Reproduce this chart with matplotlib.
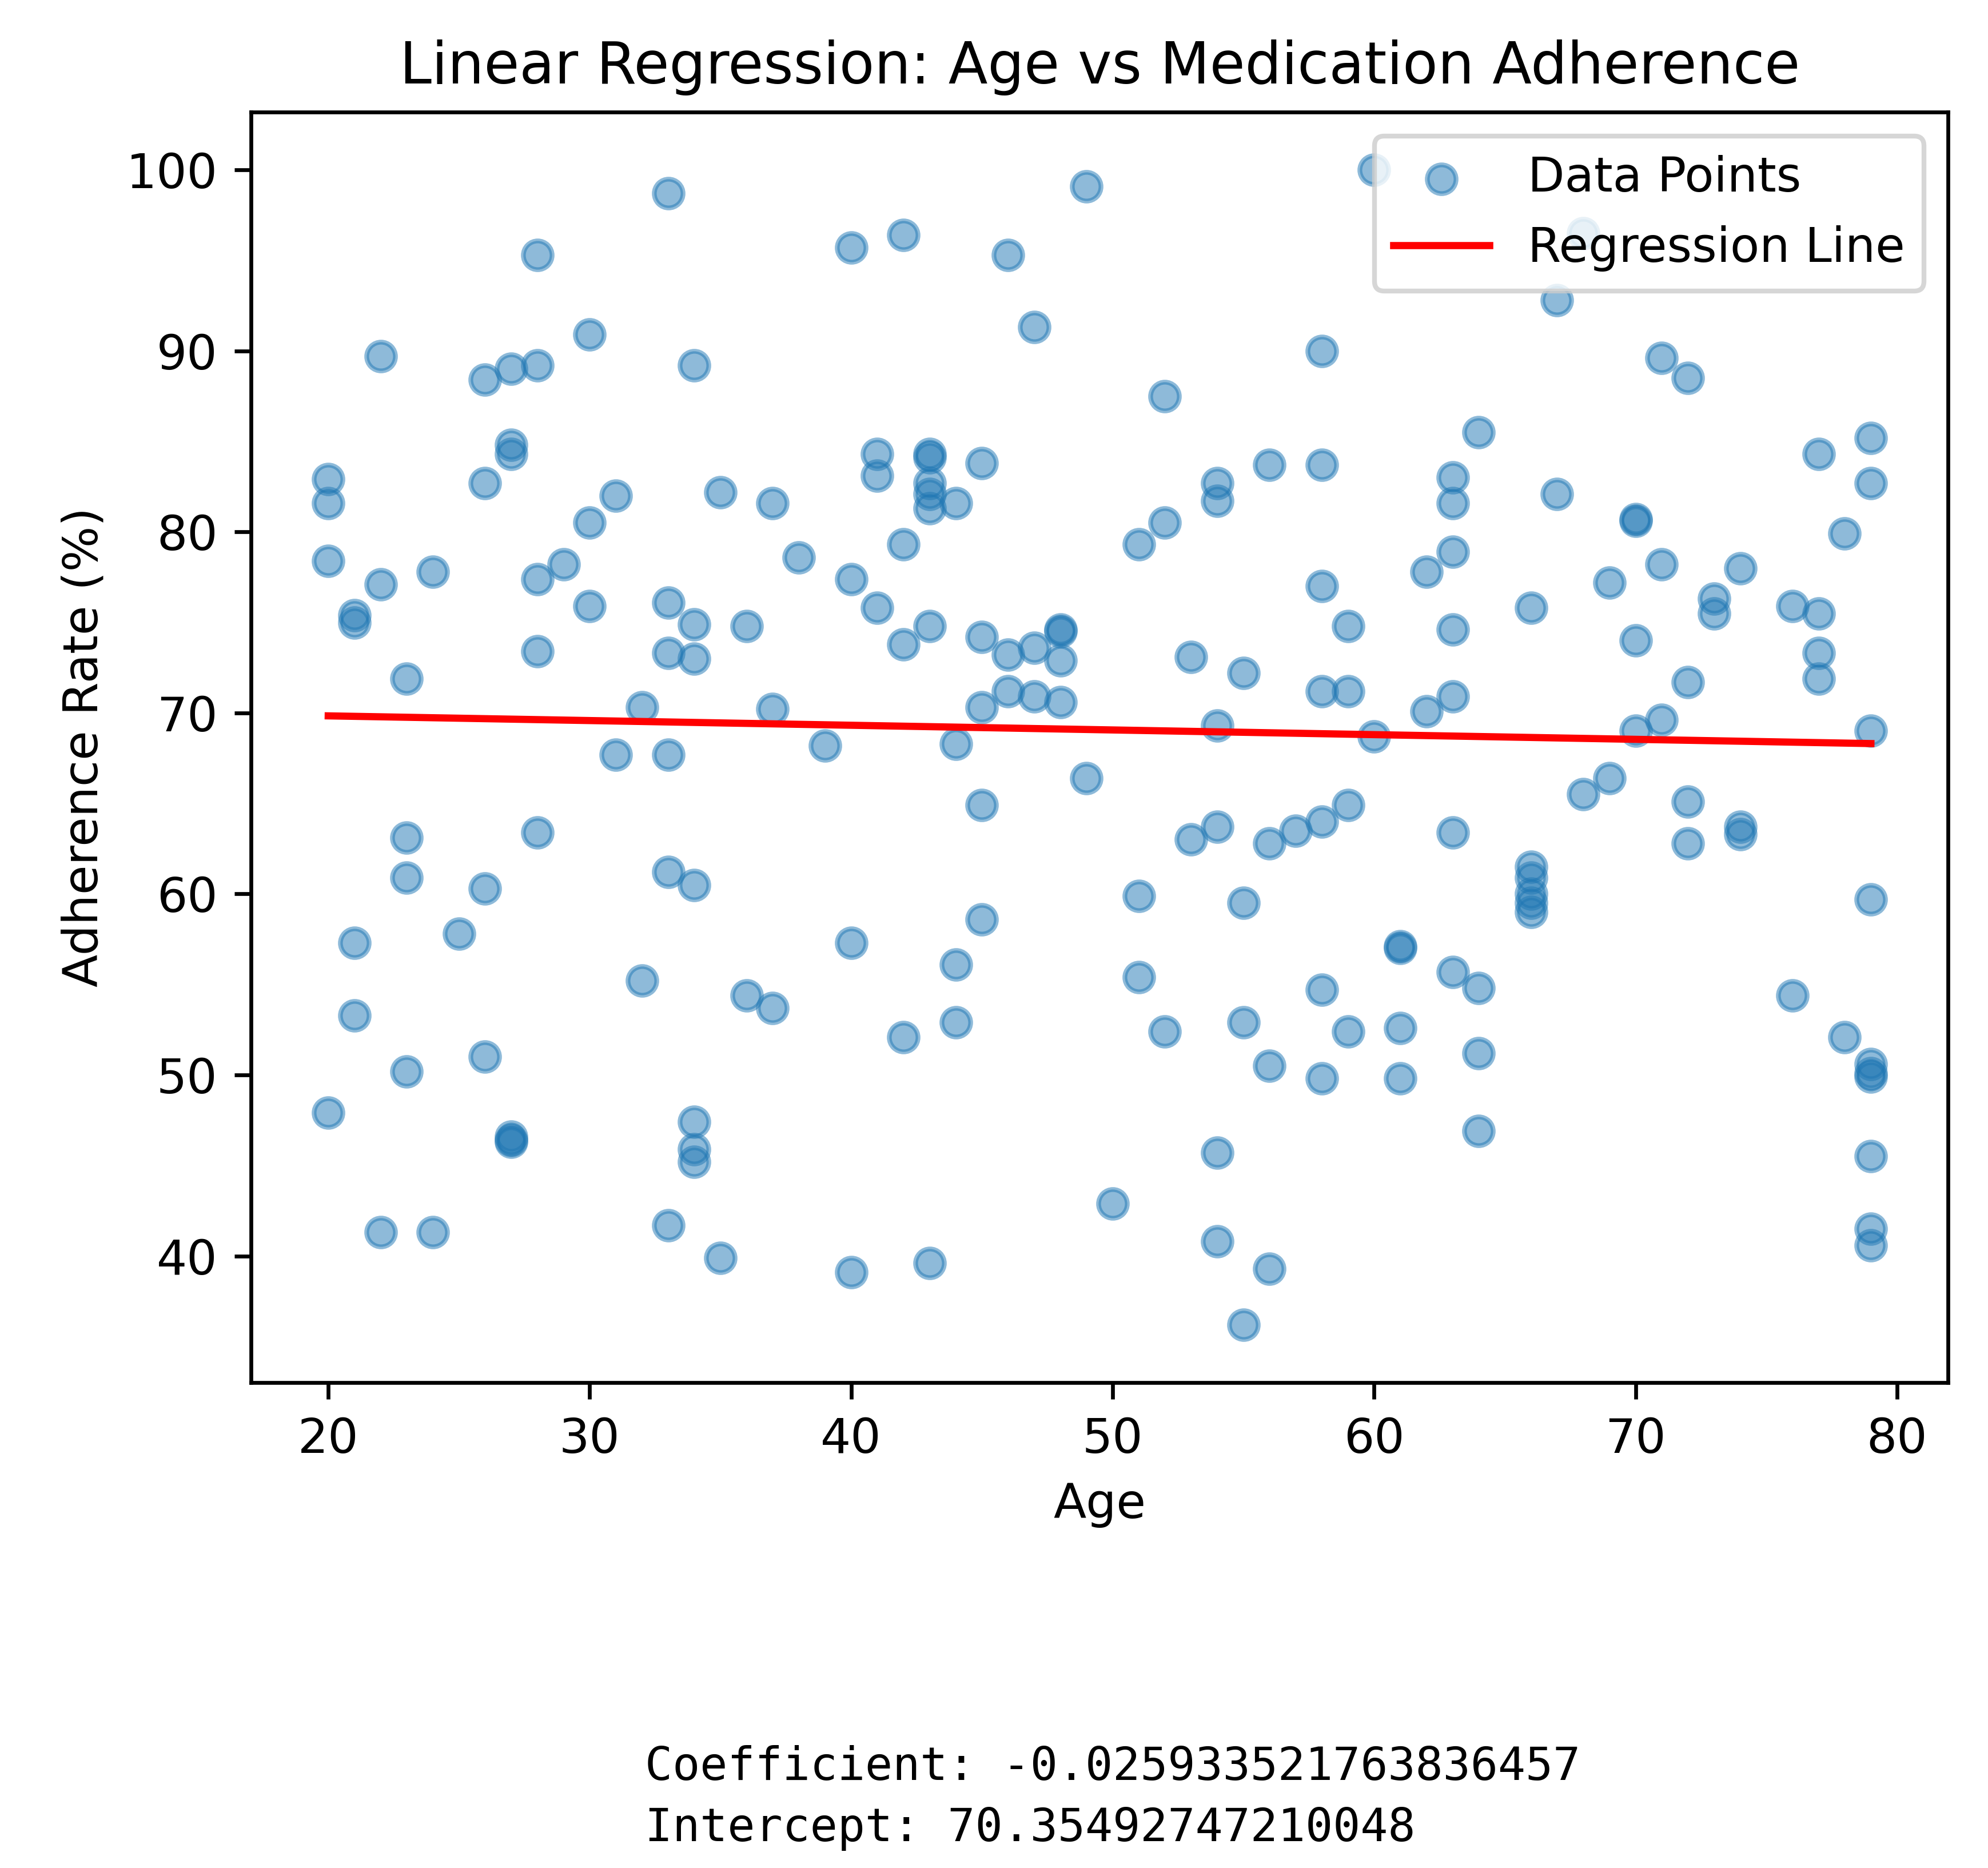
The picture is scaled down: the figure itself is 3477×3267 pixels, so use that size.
import matplotlib
matplotlib.use("Agg")
import matplotlib.pyplot as plt
import numpy as np

# ---- data ----
ages = [20, 20, 20, 20,
        21, 21, 21, 21,
        22, 22, 22,
        23, 23, 23, 23,
        24, 24,
        25,
        26, 26, 26, 26,
        27, 27, 27, 27, 27, 27,
        28, 28, 28, 28, 28,
        29,
        30, 30, 30,
        31, 31,
        32, 32,
        33, 33, 33, 33, 33, 33,
        34, 34, 34, 34, 34, 34, 34,
        35, 35,
        36, 36,
        37, 37, 37,
        38,
        39,
        40, 40, 40, 40,
        41, 41, 41,
        42, 42, 42, 42,
        43, 43, 43, 43, 43, 43, 43,
        44, 44, 44, 44,
        45, 45, 45, 45, 45,
        46, 46, 46,
        47, 47, 47,
        48, 48, 48, 48,
        49, 49,
        50,
        51, 51, 51,
        52, 52, 52,
        53, 53,
        54, 54, 54, 54, 54, 54,
        55, 55, 55, 55,
        56, 56, 56, 56,
        57,
        58, 58, 58, 58, 58, 58, 58,
        59, 59, 59, 59,
        60, 60,
        61, 61, 61, 61,
        62, 62,
        63, 63, 63, 63, 63, 63, 63,
        64, 64, 64, 64,
        66, 66, 66, 66, 66, 66,
        67, 67,
        68, 68,
        69, 69,
        70, 70, 70, 70,
        71, 71, 71,
        72, 72, 72, 72,
        73, 73,
        74, 74, 74,
        76, 76,
        77, 77, 77, 77,
        78, 78,
        79, 79, 79, 79, 79, 79, 79, 79, 79, 79]

adherence = [82.9, 81.6, 78.4, 47.9,
             75.4, 75.0, 57.3, 53.3,
             89.7, 77.1, 41.3,
             71.9, 63.1, 60.9, 50.2,
             77.8, 41.3,
             57.8,
             88.4, 82.7, 60.3, 51.0,
             89.0, 84.8, 84.3, 46.6, 46.4, 46.3,
             95.3, 89.2, 77.4, 73.4, 63.4,
             78.2,
             90.9, 80.5, 75.9,
             82.0, 67.7,
             70.3, 55.2,
             98.7, 76.1, 73.3, 67.7, 61.2, 41.7,
             89.2, 74.9, 73.0, 60.5, 47.4, 45.9, 45.2,
             82.2, 39.9,
             74.8, 54.4,
             81.6, 70.2, 53.7,
             78.6,
             68.2,
             95.7, 77.4, 57.3, 39.1,
             84.3, 83.1, 75.8,
             96.4, 79.3, 73.8, 52.1,
             84.3, 84.1, 82.7, 82.1, 81.3, 74.8, 39.6,
             81.6, 68.3, 56.1, 52.9,
             83.8, 74.2, 70.3, 64.9, 58.6,
             95.3, 73.2, 71.2,
             91.3, 73.6, 70.9,
             74.6, 74.5, 72.9, 70.6,
             99.1, 66.4,
             42.9,
             79.3, 59.9, 55.4,
             87.5, 80.5, 52.4,
             73.1, 63.0,
             82.7, 81.7, 69.3, 63.7, 45.7, 40.8,
             72.2, 59.5, 52.9, 36.2,
             83.7, 62.8, 50.5, 39.3,
             63.5,
             90.0, 83.7, 77.0, 71.2, 64.0, 54.7, 49.8,
             74.8, 71.2, 64.9, 52.4,
             100.0, 68.7,
             57.1, 57.0, 52.6, 49.8,
             77.8, 70.1,
             83.0, 81.6, 78.9, 74.6, 70.9, 63.4, 55.7,
             85.5, 54.8, 51.2, 46.9,
             75.8, 61.5, 60.9, 60.0, 59.5, 59.0,
             92.8, 82.1,
             96.5, 65.5,
             77.2, 66.4,
             80.7, 80.6, 74.0, 69.0,
             89.6, 78.2, 69.6,
             88.5, 71.7, 65.1, 62.8,
             76.3, 75.5,
             78.0, 63.7, 63.3,
             75.9, 54.4,
             84.3, 75.5, 73.3, 71.9,
             79.9, 52.1,
             85.2, 82.7, 69.0, 59.7, 50.6, 50.1, 49.9, 45.5, 41.5, 40.6]

coefficient = -0.025933521763836457
intercept = 70.35492747210048

# ---- figure ----
DPI = 603
fig = plt.figure(figsize=(3477 / DPI, 3267 / DPI), dpi=DPI)
ax = fig.add_axes([0.1263, 0.2599, 0.8536, 0.6801])

x = np.array(ages, dtype=float)
y = np.array(adherence, dtype=float)
ax.scatter(x, y, alpha=0.5, label='Data Points')

xs = np.sort(x)
ax.plot(xs, intercept + coefficient * xs, color='red', linewidth=1.5,
        label='Regression Line')

ax.set_title('Linear Regression: Age vs Medication Adherence')
ax.set_xlabel('Age')
ax.set_ylabel('Adherence Rate (%)')
ax.legend(loc='upper right')

fig.text(0.3245, 0.054, f'Coefficient: {coefficient}', family='DejaVu Sans Mono',
         fontsize=9.55, va='center', ha='left')
fig.text(0.3245, 0.021, f'Intercept: {intercept}', family='DejaVu Sans Mono',
         fontsize=9.55, va='center', ha='left')

fig.savefig('out.png', dpi=DPI)
